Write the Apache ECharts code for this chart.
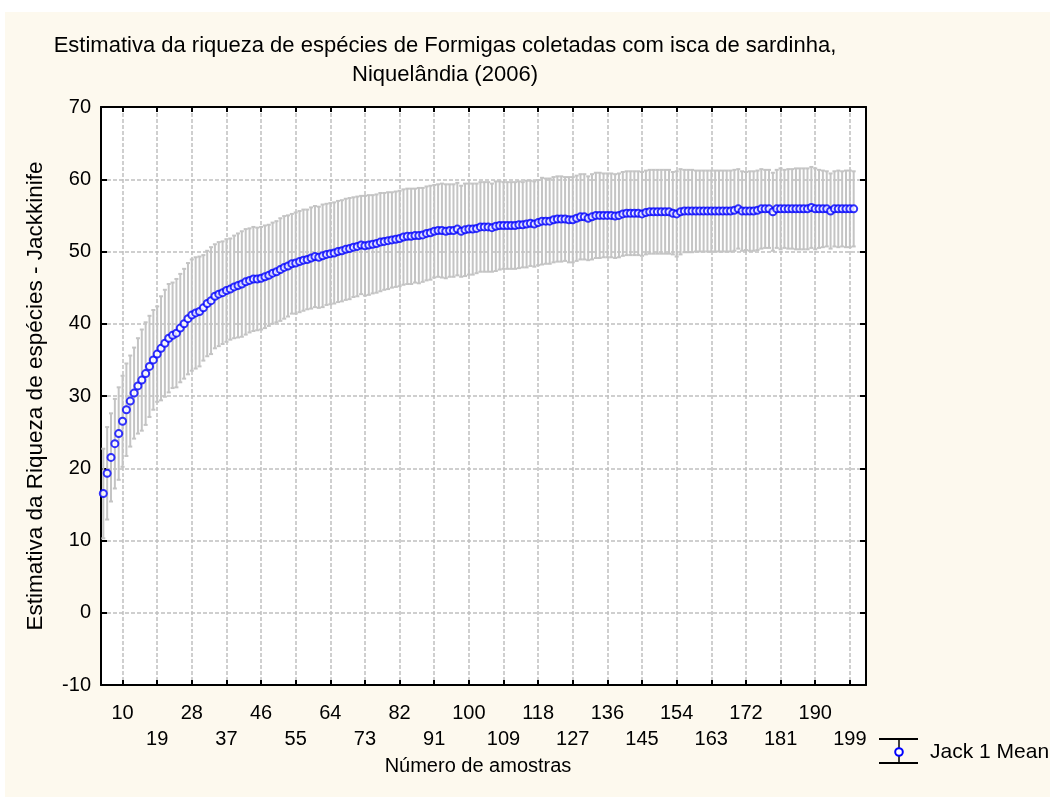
<!DOCTYPE html>
<html>
<head>
<meta charset="utf-8">
<title>Estimativa da riqueza de espécies - Jack 1</title>
<script src="https://cdn.jsdelivr.net/npm/echarts@6.0.0/dist/echarts.min.js"></script>
<style>
  html, body { margin: 0; padding: 0; background: #ffffff; }
  #paper { position: absolute; left: 5px; top: 12px; width: 1045px; height: 785px; background: #fdf9ee; }
  #chart { position: absolute; left: 0; top: 0; width: 1050px; height: 797px; }
</style>
</head>
<body>
<div id="paper"></div>
<div id="chart"></div>
<script>
// Number of samples (x) for each estimate
const samples = [
  5, 6, 7, 8, 9, 10, 11, 12, 13, 14,
  15, 16, 17, 18, 19, 20, 21, 22, 23, 24,
  25, 26, 27, 28, 29, 30, 31, 32, 33, 34,
  35, 36, 37, 38, 39, 40, 41, 42, 43, 44,
  45, 46, 47, 48, 49, 50, 51, 52, 53, 54,
  55, 56, 57, 58, 59, 60, 61, 62, 63, 64,
  65, 66, 67, 68, 69, 70, 71, 72, 73, 74,
  75, 76, 77, 78, 79, 80, 81, 82, 83, 84,
  85, 86, 87, 88, 89, 90, 91, 92, 93, 94,
  95, 96, 97, 98, 99, 100, 101, 102, 103, 104,
  105, 106, 107, 108, 109, 110, 111, 112, 113, 114,
  115, 116, 117, 118, 119, 120, 121, 122, 123, 124,
  125, 126, 127, 128, 129, 130, 131, 132, 133, 134,
  135, 136, 137, 138, 139, 140, 141, 142, 143, 144,
  145, 146, 147, 148, 149, 150, 151, 152, 153, 154,
  155, 156, 157, 158, 159, 160, 161, 162, 163, 164,
  165, 166, 167, 168, 169, 170, 171, 172, 173, 174,
  175, 176, 177, 178, 179, 180, 181, 182, 183, 184,
  185, 186, 187, 188, 189, 190, 191, 192, 193, 194,
  195, 196, 197, 198, 199, 200
];

// Jack 1 mean richness estimate
const jackMean = [
  16.5, 19.3, 21.5, 23.4, 24.8, 26.5, 28.1, 29.3, 30.4, 31.4,
  32.2, 33.1, 34.1, 35.0, 35.8, 36.6, 37.3, 38.0, 38.4, 38.7,
  39.4, 40.0, 40.7, 41.2, 41.5, 41.7, 42.2, 42.8, 43.2, 43.8,
  44.1, 44.3, 44.6, 44.8, 45.1, 45.3, 45.5, 45.8, 46.0, 46.2,
  46.2, 46.3, 46.5, 46.7, 47.0, 47.2, 47.5, 47.8, 48.0, 48.3,
  48.4, 48.6, 48.8, 48.9, 49.1, 49.3, 49.2, 49.4, 49.6, 49.7,
  49.8, 50.0, 50.1, 50.3, 50.4, 50.6, 50.7, 50.9, 50.8, 50.9,
  51.0, 51.1, 51.3, 51.4, 51.5, 51.6, 51.7, 51.8, 52.0, 52.1,
  52.1, 52.2, 52.2, 52.3, 52.5, 52.6, 52.8, 52.9, 52.9, 52.8,
  52.9, 52.9, 53.1, 52.8, 53.0, 53.1, 53.1, 53.2, 53.4, 53.4,
  53.4, 53.3, 53.5, 53.6, 53.6, 53.6, 53.6, 53.6, 53.7, 53.7,
  53.8, 53.9, 53.8, 54.0, 54.2, 54.2, 54.2, 54.4, 54.5, 54.5,
  54.5, 54.4, 54.4, 54.6, 54.8, 54.8, 54.6, 54.8, 55.0, 55.0,
  55.0, 55.0, 55.0, 54.9, 55.0, 55.2, 55.3, 55.3, 55.3, 55.3,
  55.2, 55.4, 55.5, 55.5, 55.5, 55.5, 55.5, 55.5, 55.3, 55.2,
  55.5, 55.6, 55.6, 55.6, 55.6, 55.6, 55.6, 55.6, 55.6, 55.6,
  55.6, 55.6, 55.6, 55.6, 55.7, 55.9, 55.6, 55.6, 55.6, 55.6,
  55.7, 55.9, 55.9, 55.9, 55.5, 55.9, 55.9, 55.9, 55.9, 55.9,
  55.9, 55.9, 55.9, 55.9, 56.1, 55.9, 55.9, 55.9, 55.9, 55.6,
  55.9, 55.9, 55.9, 55.9, 55.9, 55.9
];

// Half length of each whisker (mean ± value)
const jackError = [
  6.2, 6.4, 6.1, 6.2, 6.4, 6.3, 6.4, 6.3, 6.3, 6.6,
  7.0, 7.1, 7.0, 6.9, 6.6, 7.2, 7.4, 7.5, 7.3, 7.5,
  7.5, 7.6, 7.7, 7.7, 7.7, 7.6, 7.3, 7.3, 7.4, 7.2,
  7.2, 7.1, 7.1, 7.0, 7.1, 7.2, 7.3, 7.3, 7.2, 7.2,
  7.1, 7.1, 7.1, 7.0, 7.0, 7.0, 7.1, 7.1, 7.0, 6.9,
  7.0, 7.0, 7.0, 6.9, 7.0, 7.0, 7.0, 7.1, 7.0, 7.0,
  7.0, 7.0, 7.0, 7.0, 7.0, 6.9, 6.9, 6.8, 6.9, 6.9,
  6.8, 6.8, 6.8, 6.7, 6.7, 6.6, 6.6, 6.6, 6.6, 6.6,
  6.6, 6.5, 6.6, 6.5, 6.5, 6.5, 6.4, 6.4, 6.5, 6.5,
  6.4, 6.4, 6.4, 6.3, 6.4, 6.3, 6.3, 6.2, 6.2, 6.2,
  6.2, 6.1, 6.2, 6.1, 6.0, 6.0, 6.0, 6.0, 6.0, 5.9,
  6.0, 5.9, 5.9, 5.9, 6.0, 5.9, 5.9, 5.9, 5.9, 5.9,
  5.8, 5.9, 5.9, 5.9, 5.9, 5.9, 5.8, 5.9, 5.9, 5.9,
  5.8, 5.8, 5.8, 5.8, 5.8, 5.8, 5.8, 5.8, 5.8, 5.8,
  5.8, 5.8, 5.8, 5.8, 5.8, 5.8, 5.8, 5.8, 5.7, 5.9,
  5.9, 5.7, 5.7, 5.7, 5.6, 5.6, 5.6, 5.6, 5.6, 5.6,
  5.6, 5.6, 5.6, 5.6, 5.6, 5.5, 5.5, 5.4, 5.5, 5.5,
  5.5, 5.5, 5.4, 5.4, 5.4, 5.4, 5.6, 5.4, 5.5, 5.5,
  5.6, 5.6, 5.6, 5.6, 5.6, 5.6, 5.4, 5.3, 5.2, 5.2,
  5.2, 5.3, 5.2, 5.3, 5.3, 5.2
];

// Tick positions on the sample axis (labels alternate between two rows)
const xTickValues = [10, 19, 28, 37, 46, 55, 64, 73, 82, 91, 100, 109, 118, 127, 136, 145, 154, 163, 172, 181, 190, 199];

const titleLines = [
  'Estimativa da riqueza de espécies de Formigas coletadas com isca de sardinha,',
  'Niquelândia (2006)'
];
const xAxisTitle = 'Número de amostras';
const yAxisTitle = 'Estimativa da Riqueza de espécies - Jackkinife';
const seriesName = 'Jack 1 Mean';

const FONT = '"Liberation Sans", Arial, sans-serif';
const GRID_COLOR = '#c0c0c0';
const BAR_COLOR = '#c4c4c4';
const MARK_COLOR = '#0000ff';

const points = samples.map((s, i) => [s, jackMean[i], jackError[i]]);

function renderErrorBar(params, api) {
  const x = api.value(0);
  const m = api.value(1);
  const e = api.value(2);
  const top = api.coord([x, m + e]);
  const bottom = api.coord([x, m - e]);
  const cap = 2;
  const style = { stroke: BAR_COLOR, lineWidth: 2, fill: null };
  return {
    type: 'group',
    children: [
      { type: 'line', shape: { x1: top[0], y1: top[1], x2: bottom[0], y2: bottom[1] }, style: style },
      { type: 'line', shape: { x1: top[0] - cap, y1: top[1], x2: top[0] + cap, y2: top[1] }, style: style },
      { type: 'line', shape: { x1: bottom[0] - cap, y1: bottom[1], x2: bottom[0] + cap, y2: bottom[1] }, style: style }
    ]
  };
}

const frameLine = { show: true, onZero: false, lineStyle: { color: '#000', width: 2 } };
const dashed = { show: true, lineStyle: { color: GRID_COLOR, width: 1.5, type: [4, 2] } };

const chart = echarts.init(document.getElementById('chart'), null, { renderer: 'canvas' });

chart.setOption({
  animation: false,
  backgroundColor: 'transparent',
  textStyle: { fontFamily: FONT },
  grid: {
    left: 101, right: 184, top: 107, bottom: 112,
    show: true, backgroundColor: '#ffffff', borderWidth: 0
  },
  xAxis: [
    {
      type: 'value',
      position: 'bottom',
      min: 4.4,
      max: 203.2,
      axisLine: frameLine,
      axisTick: { show: true, inside: true, length: 5, customValues: xTickValues, lineStyle: { color: '#000', width: 2 } },
      axisLabel: {
        show: true,
        customValues: xTickValues,
        color: '#000',
        fontSize: 20,
        fontFamily: FONT,
        margin: 15,
        lineHeight: 26,
        formatter: function (v) {
          return (xTickValues.indexOf(v) % 2 === 1 ? '\n' : '') + v;
        }
      },
      splitLine: dashed,
      name: xAxisTitle,
      nameLocation: 'middle',
      nameGap: 70,
      nameTextStyle: { color: '#000', fontSize: 20, fontFamily: FONT, padding: [0, 11, 0, 0] }
    },
    {
      type: 'value',
      position: 'top',
      min: 4.4,
      max: 203.2,
      axisLine: frameLine,
      axisTick: { show: true, inside: true, length: 5, customValues: xTickValues, lineStyle: { color: '#000', width: 2 } },
      axisLabel: { show: false },
      splitLine: { show: false }
    }
  ],
  yAxis: [
    {
      type: 'value',
      position: 'left',
      min: -10,
      max: 70,
      interval: 10,
      axisLine: frameLine,
      axisTick: { show: true, inside: true, length: 6, lineStyle: { color: '#000', width: 2 } },
      axisLabel: { color: '#000', fontSize: 20, fontFamily: FONT, margin: 10 },
      splitLine: dashed,
      name: yAxisTitle,
      nameLocation: 'middle',
      nameGap: 54,
      nameTextStyle: { color: '#000', fontSize: 22.5, fontFamily: FONT }
    },
    {
      type: 'value',
      position: 'right',
      min: -10,
      max: 70,
      interval: 10,
      axisLine: frameLine,
      axisTick: { show: true, inside: true, length: 6, lineStyle: { color: '#000', width: 2 } },
      axisLabel: { show: false },
      splitLine: { show: false }
    }
  ],
  graphic: [
    { type: 'text', x: 445, y: 46, silent: true,
      style: { text: titleLines[0], align: 'center', verticalAlign: 'middle', fill: '#000', font: '22px ' + FONT } },
    { type: 'text', x: 445, y: 75, silent: true,
      style: { text: titleLines[1], align: 'center', verticalAlign: 'middle', fill: '#000', font: '22px ' + FONT } },
    // legend key: whisker with mean marker
    { type: 'line', shape: { x1: 879, y1: 739, x2: 918, y2: 739 }, style: { stroke: '#000', lineWidth: 2 } },
    { type: 'line', shape: { x1: 879, y1: 763, x2: 918, y2: 763 }, style: { stroke: '#000', lineWidth: 2 } },
    { type: 'line', shape: { x1: 899, y1: 739, x2: 899, y2: 763 }, style: { stroke: '#000', lineWidth: 1.5 } },
    { type: 'circle', shape: { cx: 899, cy: 752, r: 3.8 }, style: { fill: '#fff', stroke: MARK_COLOR, lineWidth: 2 } },
    { type: 'text', x: 930, y: 752, silent: true,
      style: { text: seriesName, align: 'left', verticalAlign: 'middle', fill: '#000', font: '21px ' + FONT } }
  ],
  series: [
    {
      name: seriesName + ' (±)',
      type: 'custom',
      xAxisIndex: 0,
      yAxisIndex: 0,
      clip: true,
      silent: true,
      renderItem: renderErrorBar,
      encode: { x: 0, y: 1 },
      data: points,
      z: 2
    },
    {
      name: seriesName,
      type: 'scatter',
      xAxisIndex: 0,
      yAxisIndex: 0,
      symbol: 'circle',
      symbolSize: 7,
      itemStyle: { color: '#ffffff', borderColor: MARK_COLOR, borderWidth: 2 },
      data: points.map(p => [p[0], p[1]]),
      z: 3
    }
  ]
});
</script>
</body>
</html>
